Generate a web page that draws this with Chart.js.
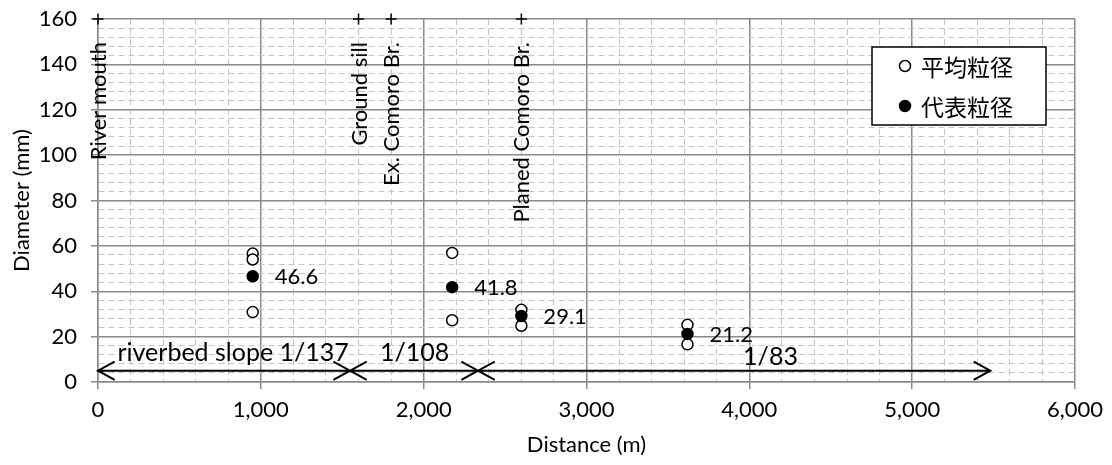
<!DOCTYPE html>
<html>
<head>
<meta charset="utf-8">
<title>Grain size along the river</title>
<script src="https://cdn.jsdelivr.net/npm/chart.js@4/dist/chart.umd.min.js"></script>
<style>
  html, body { margin: 0; padding: 0; background: #fff; }
  #wrap { width: 1112px; height: 465px; }
</style>
</head>
<body>
<div id="wrap"><canvas id="grainChart" width="1112" height="465"></canvas></div>
<script>
// mean grain size samples (open circles)
const meanDist = [950, 950, 950, 2175, 2175, 2600, 2600, 3620, 3620];
const meanDiam = [56.6, 54.0, 30.8, 56.9, 27.2, 31.8, 24.8, 25.2, 16.6];

// representative grain size (filled circles, labelled)
const reprDist = [950, 2175, 2600, 3620];
const reprDiam = [46.6, 41.8, 29.1, 21.2];

// landmarks, marked with a cross along the top of the plot
const siteDist = [0, 1600, 1800, 2600];
const siteNames = ['River mouth', 'Ground sill', 'Ex. Comoro Br.', 'Planed Comoro Br.'];
const siteLevel = 160;

// riverbed slope sections (double arrows near the bottom)
const slopeFrom = [0, 1548, 2334];
const slopeTo = [1548, 2334, 5480];
const slopeLevel = 5;
const slopeText = ['riverbed slope 1/137', '1/108', '1/83'];
const slopeTextX = [830, 1945, 4130];
const slopeTextY = [13, 13, 11];

const seriesNames = ['平均粒径', '代表粒径'];

// axis ranges: major steps get a label, minor steps a dashed line
const xRange = [0, 6000];
const xMajor = 1000, xMinor = 200;
const yRange = [0, 160];
const yMajor = 20, yMinor = 4;

const LATIN = 'Lato, "DejaVu Sans", sans-serif';
const CJK = '"Noto Sans CJK JP", sans-serif';

function isMajor(ctx, step) {
    return !ctx.tick || ctx.tick.value % step === 0;
}

function gridOpts(step) {
    return {
        color: ctx => isMajor(ctx, step) ? '#8a8a8a' : '#c4c4c4',
        lineWidth: ctx => isMajor(ctx, step) ? 1.5 : 1,
        tickColor: ctx => isMajor(ctx, step) ? '#8a8a8a' : 'rgba(0,0,0,0)',
        tickLength: 7,
        tickWidth: 1.5
    };
}

function borderOpts(step) {
    return {
        display: true,
        color: '#8a8a8a',
        width: 1.5,
        dash: ctx => isMajor(ctx, step) ? [] : [6, 4]
    };
}

// numbers beside the filled markers
const valueLabels = {
    id: 'valueLabels',
    afterDatasetsDraw(chart) {
        const ctx = chart.ctx;
        const meta = chart.getDatasetMeta(0);
        ctx.save();
        ctx.font = '22px ' + LATIN;
        ctx.fillStyle = '#000';
        ctx.textAlign = 'left';
        ctx.textBaseline = 'middle';
        meta.data.forEach((pt, i) => {
            ctx.fillText(reprDiam[i].toFixed(1), pt.x + 22, pt.y + 1);
        });
        ctx.restore();
    }
};

// vertical landmark names hanging under the crosses
const siteLabels = {
    id: 'siteLabels',
    afterDatasetsDraw(chart) {
        const ctx = chart.ctx;
        const meta = chart.getDatasetMeta(2);
        ctx.save();
        ctx.font = '22px ' + LATIN;
        ctx.fillStyle = '#000';
        ctx.textAlign = 'right';
        ctx.textBaseline = 'middle';
        meta.data.forEach((pt, i) => {
            ctx.save();
            ctx.translate(pt.x + 1, pt.y + 23);
            ctx.rotate(-Math.PI / 2);
            ctx.fillText(siteNames[i], 0, 0);
            ctx.restore();
        });
        ctx.restore();
    }
};

// slope arrows and their captions
const slopeArrows = {
    id: 'slopeArrows',
    afterDatasetsDraw(chart) {
        const ctx = chart.ctx;
        const xs = chart.scales.x, ys = chart.scales.y;
        const head = 19, spread = 0.5;
        ctx.save();
        ctx.strokeStyle = '#000';
        ctx.lineWidth = 2;
        for (let i = 0; i < slopeFrom.length; i++) {
            const x1 = xs.getPixelForValue(slopeFrom[i]);
            const x2 = xs.getPixelForValue(slopeTo[i]);
            const y = ys.getPixelForValue(slopeLevel);
            ctx.beginPath();
            ctx.moveTo(x1, y);
            ctx.lineTo(x2, y);
            // left head
            ctx.moveTo(x1 + head * Math.cos(spread), y - head * Math.sin(spread));
            ctx.lineTo(x1, y);
            ctx.lineTo(x1 + head * Math.cos(spread), y + head * Math.sin(spread));
            // right head
            ctx.moveTo(x2 - head * Math.cos(spread), y - head * Math.sin(spread));
            ctx.lineTo(x2, y);
            ctx.lineTo(x2 - head * Math.cos(spread), y + head * Math.sin(spread));
            ctx.stroke();
        }
        ctx.font = '25px ' + LATIN;
        ctx.fillStyle = '#000';
        ctx.textAlign = 'center';
        ctx.textBaseline = 'middle';
        slopeText.forEach((t, i) => {
            ctx.fillText(t, xs.getPixelForValue(slopeTextX[i]), ys.getPixelForValue(slopeTextY[i]));
        });
        ctx.restore();
    }
};

// framed legend inside the plot, top right
const boxLegend = {
    id: 'boxLegend',
    afterDraw(chart, args, opts) {
        const ctx = chart.ctx;
        const area = chart.chartArea;
        const w = 174, h = 78;
        const left = area.right - opts.right - w;
        const top = area.top + opts.top;
        ctx.save();
        ctx.fillStyle = '#fff';
        ctx.fillRect(left, top, w, h);
        ctx.strokeStyle = '#000';
        ctx.lineWidth = 1.5;
        ctx.strokeRect(left, top, w, h);
        ctx.font = '23px ' + CJK;
        ctx.textBaseline = 'middle';
        seriesNames.forEach((name, i) => {
            const ds = chart.data.datasets.find(d => d.label === name);
            const cy = top + 19 + i * 40;
            const cx = left + 33;
            ctx.beginPath();
            ctx.arc(cx, cy, 5.5, 0, Math.PI * 2);
            ctx.fillStyle = ds.backgroundColor;
            ctx.fill();
            ctx.lineWidth = ds.borderWidth;
            ctx.strokeStyle = ds.borderColor;
            ctx.stroke();
            ctx.fillStyle = '#000';
            ctx.fillText(name, left + 49, cy + 1);
        });
        ctx.restore();
    }
};

const ctx = document.getElementById('grainChart').getContext('2d');

new Chart(ctx, {
    type: 'scatter',
    data: {
        datasets: [
            {
                label: seriesNames[1],
                data: reprDist.map((x, i) => ({ x: x, y: reprDiam[i] })),
                pointStyle: 'circle',
                pointRadius: 5.5,
                backgroundColor: '#000',
                borderColor: '#000',
                borderWidth: 1.5,
                order: 0
            },
            {
                label: seriesNames[0],
                data: meanDist.map((x, i) => ({ x: x, y: meanDiam[i] })),
                pointStyle: 'circle',
                pointRadius: 5.5,
                backgroundColor: '#fff',
                borderColor: '#000',
                borderWidth: 1.5,
                order: 1
            },
            {
                label: 'sites',
                data: siteDist.map(x => ({ x: x, y: siteLevel })),
                pointStyle: 'cross',
                pointRadius: 5.5,
                borderColor: '#000',
                borderWidth: 1.5,
                clip: false,
                order: 2
            }
        ]
    },
    options: {
        responsive: false,
        animation: false,
        devicePixelRatio: 1,
        layout: { padding: { top: 19, right: 37, left: 0, bottom: 0 } },
        plugins: {
            legend: { display: false },
            tooltip: { enabled: false },
            boxLegend: { right: 29, top: 28 }
        },
        scales: {
            x: {
                type: 'linear',
                min: xRange[0],
                max: xRange[1],
                grid: gridOpts(xMajor),
                border: borderOpts(xMajor),
                ticks: {
                    stepSize: xMinor,
                    autoSkip: false,
                    maxRotation: 0,
                    padding: 8,
                    color: '#000',
                    font: { family: LATIN, size: 22 },
                    callback: v => v % xMajor === 0 ? v.toLocaleString('en-US') : ''
                },
                title: {
                    display: true,
                    text: 'Distance (m)',
                    color: '#000',
                    font: { family: LATIN, size: 22 },
                    padding: { top: 0, bottom: 7 }
                },
                afterFit: scale => { scale.height = 83; }
            },
            y: {
                type: 'linear',
                min: yRange[0],
                max: yRange[1],
                grid: gridOpts(yMajor),
                border: borderOpts(yMajor),
                ticks: {
                    stepSize: yMinor,
                    autoSkip: false,
                    padding: 14,
                    color: '#000',
                    font: { family: LATIN, size: 22 },
                    callback: v => v % yMajor === 0 ? v : ''
                },
                title: {
                    display: true,
                    text: 'Diameter (mm)',
                    color: '#000',
                    font: { family: LATIN, size: 22 },
                    padding: { top: 9, bottom: 0 }
                },
                afterFit: scale => {
                    scale.width = 98;
                    scale.paddingTop = 0;
                    scale.paddingBottom = 0;
                }
            }
        }
    },
    plugins: [slopeArrows, valueLabels, siteLabels, boxLegend]
});
</script>
</body>
</html>
